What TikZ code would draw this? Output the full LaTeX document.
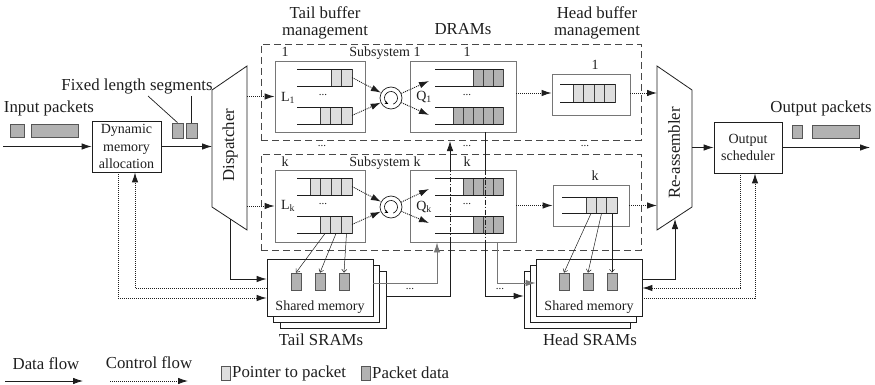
\documentclass[tikz,border=0pt]{standalone}
\usepackage{fontspec}
\setmainfont{Liberation Serif}
\usetikzlibrary{arrows.meta,calc}

\definecolor{ink}{HTML}{1E1E1E}
\definecolor{boxgray}{HTML}{767676}
\definecolor{ptrfill}{HTML}{DEDEDE}
\definecolor{datfill}{HTML}{B2B2B2}
\definecolor{dashc}{HTML}{484848}

\tikzset{
  lbl/.style={font=\fontsize{16.8pt}{17pt}\selectfont, text=ink, inner sep=0pt, align=center},
  sml/.style={font=\fontsize{14pt}{17.5pt}\selectfont, text=ink, inner sep=0pt, align=center},
  ell/.style={font=\fontsize{11pt}{11pt}\selectfont, text=ink, inner sep=0pt},
  unitbox/.style={draw=boxgray, line width=0.9pt, fill=white, inner sep=0pt},
  plainbox/.style={draw=ink, line width=0.8pt, fill=white, inner sep=0pt},
  sramcard/.style={draw=ink, line width=0.8pt, fill=white, inner sep=0pt,
                   minimum width=106pt, minimum height=57pt},
  subsys/.style={draw=dashc, line width=0.9pt, dash pattern=on 7pt off 4pt, inner sep=0pt},
  flowtip/.style={-{Latex[length=10pt,width=6.5pt]}},
  dataflow/.style={draw=ink, line width=0.8pt, flowtip},
  grayflow/.style={draw=boxgray, line width=0.9pt, flowtip},
  ctrlflow/.style={draw=ink, line width=0.9pt, dash pattern=on 1pt off 1pt, flowtip},
  throughline/.style={draw=ink, line width=0.8pt, dash pattern=on 5pt off 2pt on 1pt off 2pt},
  ptrlink/.style={draw=ink, line width=0.5pt, -{Straight Barb[length=3pt,width=5pt]}},
  qline/.style={draw=ink, line width=0.7pt},
  qcell/.style={draw=ink!85, line width=0.7pt},
  pkt/.style={draw=ink!75, line width=0.7pt, fill=datfill, inner sep=0pt},
  rrnode/.style={draw=ink, line width=0.7pt, circle, minimum size=22pt, inner sep=0pt},
  leader/.style={draw=ink, line width=0.7pt},
  trapez/.style={draw=ink, line width=0.8pt, fill=white},
}

% open-ended queue: #1 left x, #2 right x, #3 top y, #4 bottom y,
% #5 number of cells, #6 cell width, #7 cell fill
\newcommand\qfifo[7]{%
  \foreach \ci in {1,...,#5}{%
    \draw[qcell, fill=#7] ({#2-\ci*#6},#3) rectangle ({#2-(\ci-1)*#6},#4);
  }%
  \draw[qline] (#1,#3) -- (#2,#3) (#1,#4) -- (#2,#4);
}

\begin{document}
\begin{tikzpicture}[x=1pt,y=-1pt]
\useasboundingbox (0,0) rectangle (875,385);

% ---------- helper levels ----------
\coordinate (lvA) at (0,279);
\coordinate (lvB) at (0,283);
\coordinate (lvC) at (0,288);
\coordinate (lvD) at (0,296);
\coordinate (lvE) at (0,298);

% ---------- input side ----------
\node[lbl] (inlbl) at (49,108) {Input packets};
\node[pkt, minimum width=14pt, minimum height=13pt] (inp1) at (17,130.5) {};
\node[pkt, minimum width=47pt, minimum height=13pt] (inp2) at (54.5,130.5) {};
\coordinate (src) at (3,146.5);
\node[plainbox, sml, minimum width=69pt, minimum height=51pt] (dma) at (126.5,146.5)
  {Dynamic\\memory\\allocation};
\draw[dataflow] (src) -- (dma.west);

\node[lbl] (fixlbl) at (137,86) {Fixed length segments};
\node[pkt, minimum width=11pt, minimum height=15pt] (seg1) at (177.5,130.5) {};
\node[pkt, minimum width=11pt, minimum height=15pt] (seg2) at (191.5,130.5) {};
\coordinate (lead1) at (148,96);
\coordinate (lead2) at (191.5,96);
\draw[leader] (lead1) -- (seg1.north);
\draw[leader] (lead2) -- (seg2.north);

% ---------- dispatcher ----------
\coordinate (dNW) at (212,90);
\coordinate (dNE) at (247,66);
\coordinate (dSE) at (247,230);
\coordinate (dSW) at (212,207);
\draw[trapez] (dNW) -- (dNE) -- (dSE) -- (dSW) -- cycle;
\node[lbl, rotate=90] (disp) at (230,145) {Dispatcher};
\coordinate (dispIn) at (212,146.5);
\draw[dataflow] (dma.east) -- (dispIn);

% ---------- re-assembler ----------
\coordinate (rNW) at (657,66);
\coordinate (rNE) at (692,90);
\coordinate (rSE) at (692,207);
\coordinate (rSW) at (657,230);
\draw[trapez] (rNW) -- (rNE) -- (rSE) -- (rSW) -- cycle;
\node[lbl, rotate=90] (reasm) at (674,153) {Re-assembler};

% ---------- output side ----------
\node[plainbox, sml, minimum width=68pt, minimum height=51pt] (osch) at (748,147.5)
  {Output\\scheduler};
\coordinate (rOut) at (692,147.5);
\draw[dataflow] (rOut) -- (osch.west);
\coordinate (sink) at (870,147.5);
\draw[dataflow] (osch.east) -- (sink);
\node[lbl] (outlbl) at (821,108) {Output packets};
\node[pkt, minimum width=10pt, minimum height=13pt] (outp1) at (797,131.5) {};
\node[pkt, minimum width=47pt, minimum height=13pt] (outp2) at (835.5,131.5) {};

% ---------- headings ----------
\node[lbl] (hdtail) at (325,23) {Tail buffer\\management};
\node[lbl] (hddram) at (463,29) {DRAMs};
\node[lbl] (hdhead) at (597,23) {Head buffer\\management};

% ---------- subsystems ----------
\node[subsys, minimum width=380pt, minimum height=96pt] (sub1) at (451,92) {};
\node[subsys, minimum width=380pt, minimum height=96pt] (subk) at (451,202) {};
\node[sml] (sub1lbl) at (385,53) {Subsystem 1};
\node[sml] (subklbl) at (385,163) {Subsystem k};

\node[ell] (gap1) at (322,146) {...};
\node[ell] (gap2) at (467,146) {...};
\node[ell] (gap3) at (585,146) {...};

% tail buffers
\node[unitbox, minimum width=90pt, minimum height=71pt] (tail1) at (320,96.5) {};
\node[unitbox, minimum width=90pt, minimum height=72pt] (tailk) at (320,206) {};
\node[sml] (tail1no) at (285,52) {1};
\node[sml] (tailkno) at (285,162) {k};
\qfifo{297}{352}{69}{86}{2}{10.5}{ptrfill}
\qfifo{297}{352}{107}{124}{3}{10.67}{ptrfill}
\qfifo{297}{352}{178}{195}{4}{10.5}{ptrfill}
\qfifo{297}{352}{216}{233}{3}{10.67}{ptrfill}
\node[sml] (L1) at (288,98) {L\textsubscript{1}};
\node[sml] (Lk) at (288,206) {L\textsubscript{k}};
\node[ell] (tail1dots) at (323,95) {...};
\node[ell] (tailkdots) at (323,204) {...};

% DRAM units
\node[unitbox, minimum width=106pt, minimum height=71pt] (dram1) at (463,96.5) {};
\node[unitbox, minimum width=106pt, minimum height=72pt] (dramk) at (463,206) {};
\node[sml] (dram1no) at (467,52) {1};
\node[sml] (dramkno) at (467,162) {k};
\qfifo{435}{503}{69}{86}{3}{10}{datfill}
\qfifo{435}{503}{107}{124}{5}{10}{datfill}
\qfifo{435}{503}{178}{195}{4}{10}{datfill}
\qfifo{435}{503}{216}{233}{3}{10}{datfill}
\node[sml] (Q1) at (424,97) {Q\textsubscript{1}};
\node[sml] (Qk) at (424,207) {Q\textsubscript{k}};
\node[ell] (dram1dots) at (467,95) {...};
\node[ell] (dramkdots) at (467,204) {...};

% head buffers
\node[unitbox, minimum width=78pt, minimum height=41pt] (head1) at (591,94.5) {};
\node[unitbox, minimum width=76pt, minimum height=41pt] (headk) at (591,205.5) {};
\node[sml] (head1no) at (595,65) {1};
\node[sml] (headkno) at (595,176) {k};
\qfifo{560}{615}{84}{102}{4}{10.5}{ptrfill}
\qfifo{562}{617}{197}{213}{3}{10.33}{ptrfill}

% round-robin schedulers
\node[rrnode] (rr1) at (391,98) {};
\node[rrnode] (rrk) at (391,207) {};
\foreach \rr in {rr1,rrk}{
  \draw[line width=0.6pt, -{Stealth[length=3.5pt,width=3.5pt]}]
    ($(\rr.center)+(70:6.5)$) arc[start angle=70, end angle=-245, radius=6.5];
}

% control flow inside subsystems
\coordinate (dispO1) at (247,96.5);
\coordinate (dispOk) at (247,206);
\draw[ctrlflow] (dispO1) -- (tail1.west);
\draw[ctrlflow] (dispOk) -- (tailk.west);

\coordinate (t1top) at (352,77.5);
\coordinate (t1bot) at (352,115.5);
\coordinate (tktop) at (352,186.5);
\coordinate (tkbot) at (352,224.5);
\draw[ctrlflow] (t1top) -- (rr1);
\draw[ctrlflow] (t1bot) -- (rr1);
\draw[ctrlflow] (tktop) -- (rrk);
\draw[ctrlflow] (tkbot) -- (rrk);

\coordinate (d1top) at (429,81);
\coordinate (d1bot) at (429,115);
\coordinate (dktop) at (429,189);
\coordinate (dkbot) at (429,223);
\draw[ctrlflow] (rr1) -- (d1top);
\draw[ctrlflow] (rr1) -- (d1bot);
\draw[ctrlflow] (rrk) -- (dktop);
\draw[ctrlflow] (rrk) -- (dkbot);

\coordinate (d1out) at (516,93);
\coordinate (dkout) at (516,205.5);
\draw[ctrlflow] (d1out) -- (d1out -| head1.west);
\draw[ctrlflow] (d1out -| head1.east) -- (d1out -| rNW);
\draw[ctrlflow] (dkout) -- (dkout -| headk.west);
\draw[ctrlflow] (dkout -| headk.east) -- (dkout -| rNW);

% ---------- tail SRAMs ----------
\node[sramcard] (tsB2) at (333,299.5) {};
\node[sramcard] (tsB1) at (326.5,293.5) {};
\node[sramcard] (tsF) at (320,287.5) {};
\node[pkt, minimum width=10pt, minimum height=17pt] (tsd1) at (296,281.5) {};
\node[pkt, minimum width=10pt, minimum height=17pt] (tsd2) at (320,281.5) {};
\node[pkt, minimum width=10pt, minimum height=17pt] (tsd3) at (344,281.5) {};
\node[sml] (tsmem) at (320,307) {Shared memory};
\node[lbl] (tslbl) at (321,340) {Tail SRAMs};

% ---------- head SRAMs ----------
\node[sramcard] (hsB2) at (577,299.5) {};
\node[sramcard] (hsB1) at (583,293.5) {};
\node[sramcard] (hsF) at (589,287.5) {};
\node[pkt, minimum width=10pt, minimum height=17pt] (hsd1) at (564,281.5) {};
\node[pkt, minimum width=10pt, minimum height=17pt] (hsd2) at (588,281.5) {};
\node[pkt, minimum width=10pt, minimum height=17pt] (hsd3) at (612,281.5) {};
\node[sml] (hsmem) at (589,307) {Shared memory};
\node[lbl] (hslbl) at (590,340) {Head SRAMs};

% pointer links
\coordinate (ptk1) at (325,233.5);
\coordinate (ptk2) at (336,233.5);
\coordinate (ptk3) at (346.5,233.5);
\draw[ptrlink] (ptk1) -- (tsd1.north);
\draw[ptrlink] (ptk2) -- (tsd2.north);
\draw[ptrlink] (ptk3) -- (tsd3.north);
\coordinate (phk1) at (591,213.5);
\coordinate (phk2) at (601.5,213.5);
\coordinate (phk3) at (612,213.5);
\draw[ptrlink] (phk1) -- (hsd1.north);
\draw[ptrlink] (phk2) -- (hsd2.north);
\draw[ptrlink] (phk3) -- (hsd3.north);

% ---------- data flow between stages ----------
\coordinate (dispB) at (230,219);
\draw[dataflow] (dispB) |- (tsF.west |- lvA);
\coordinate (reasmB) at (675,219);
\draw[dataflow] (hsF.east |- lvA) -| (reasmB);

\coordinate (cX) at (437,0);
\coordinate (dX) at (497,0);
\draw[grayflow] (tsF.east |- lvB) -| (dramk.south -| cX);
\draw[grayflow] (dramk.south -| dX) |- (hsF.west |- lvB);

\coordinate (aX) at (450,0);
\coordinate (aTip) at (450,141);
\draw[draw=ink, line width=0.8pt] (tsB2.east |- lvD) -| (dramk.south -| aX);
\draw[throughline] (dramk.south -| aX) -- (dramk.north -| aX);
\draw[dataflow] (dramk.north -| aX) -- (aTip);

\coordinate (bX) at (485,0);
\draw[draw=ink, line width=0.8pt] (dram1.south -| bX) -- (dramk.north -| bX);
\draw[throughline] (dramk.north -| bX) -- (dramk.south -| bX);
\draw[dataflow] (dramk.south -| bX) |- (hsB2.west |- lvD);

\node[ell] (tsdots) at (410,289) {...};
\node[ell] (hsdots) at (500,289) {...};

% ---------- control flow with schedulers ----------
\draw[ctrlflow] ($(dma.south)+(-8.5,0)$) |- (tsF.west |- lvE);
\draw[ctrlflow] (tsF.west |- lvC) -| ($(dma.south)+(8.5,0)$);
\draw[ctrlflow] ($(osch.south)+(-8,0)$) |- (hsF.east |- lvC);
\draw[ctrlflow] (hsF.east |- lvE) -| ($(osch.south)+(7,0)$);

% ---------- legend ----------
\node[lbl] (lgdata) at (46,364) {Data flow};
\coordinate (lgd0) at (5,381);
\coordinate (lgd1) at (83,381);
\draw[dataflow] (lgd0) -- (lgd1);
\node[lbl] (lgctrl) at (149,363) {Control flow};
\coordinate (lgc0) at (110,381);
\coordinate (lgc1) at (188,381);
\draw[ctrlflow] (lgc0) -- (lgc1);
\node[pkt, fill=ptrfill, minimum width=9pt, minimum height=14pt] (lgptr) at (225.5,373) {};
\node[lbl, anchor=west] (lgptrtxt) at (232,373) {Pointer to packet};
\node[pkt, minimum width=9pt, minimum height=14pt] (lgdat) at (365.5,373) {};
\node[lbl, anchor=west] (lgdattxt) at (372,373) {Packet data};
\end{tikzpicture}
\end{document}
